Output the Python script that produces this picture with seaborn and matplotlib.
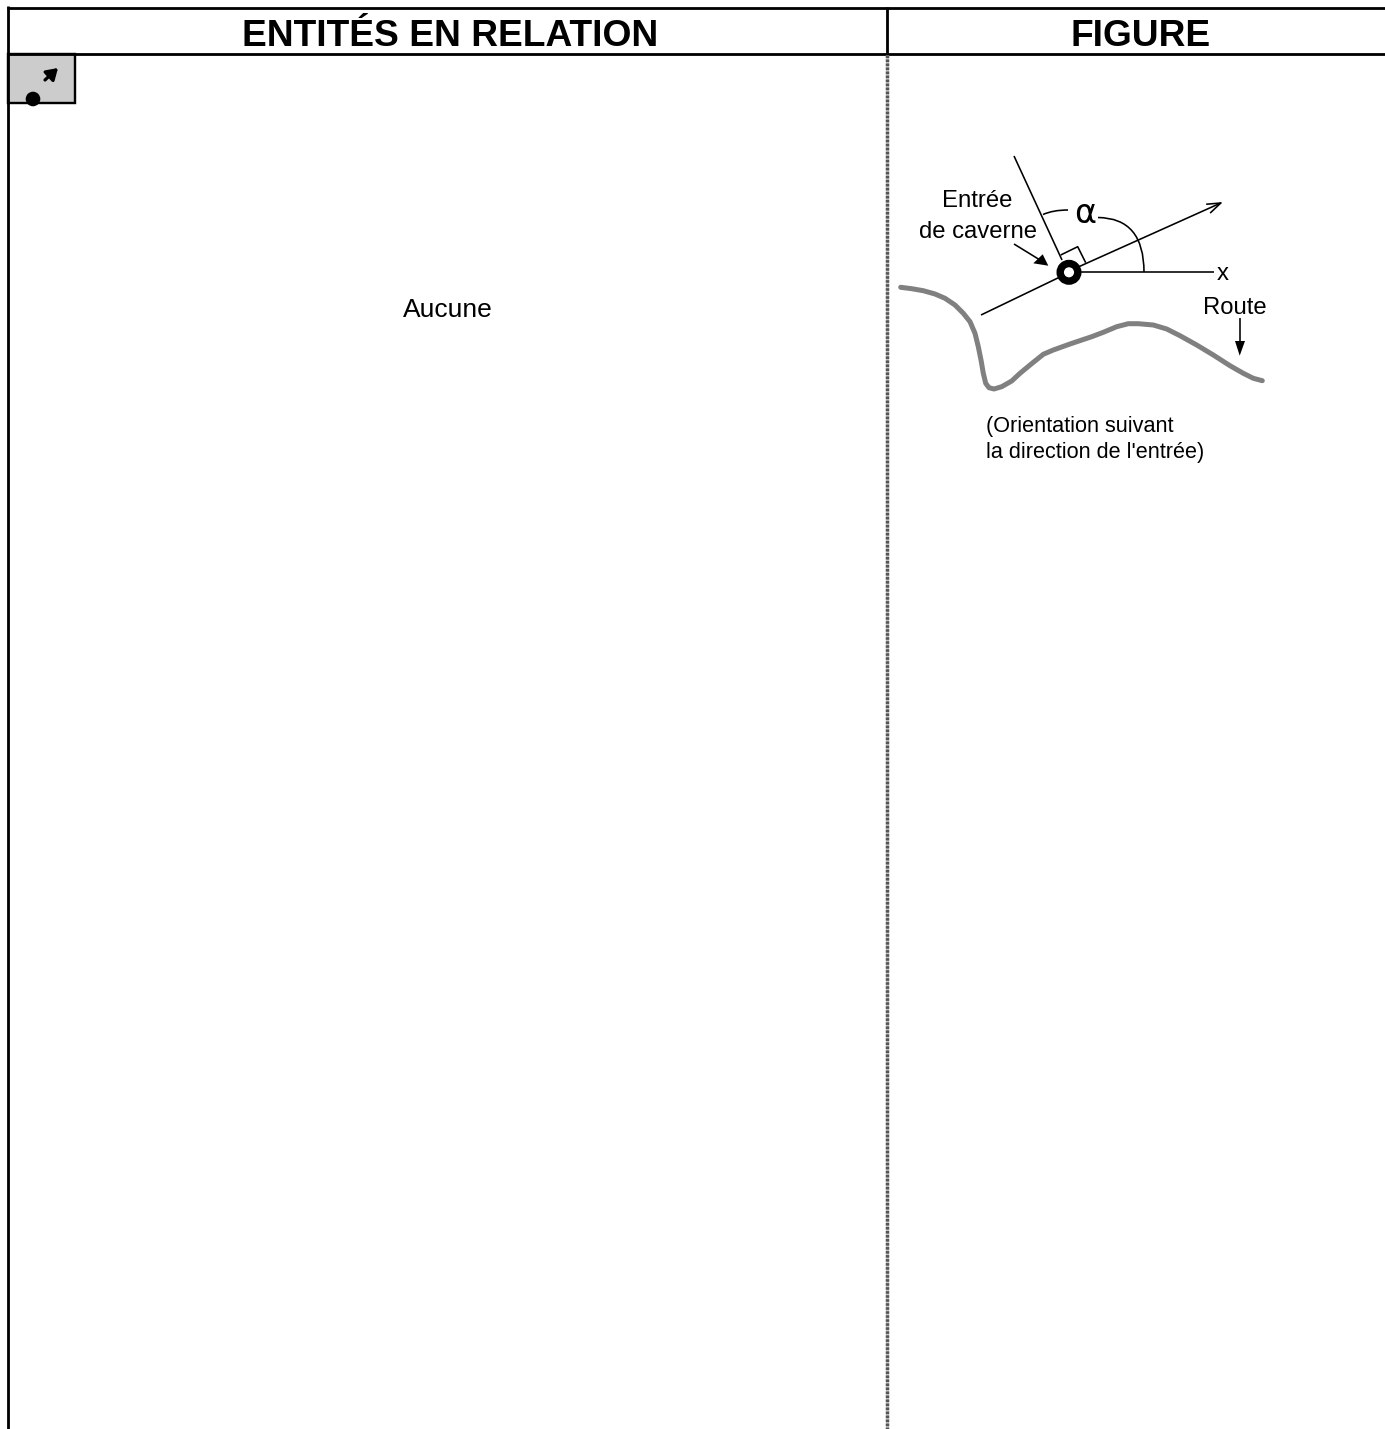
import matplotlib
matplotlib.use("Agg")
import matplotlib.pyplot as plt
from matplotlib.patches import Circle, PathPatch, Rectangle, Polygon
from matplotlib.path import Path
import pandas as pd
import seaborn as sns

# texte
headers = ["ENTITÉS EN RELATION", "FIGURE"]
cell_text = "Aucune"
note_lines = ["(Orientation suivant", "la direction de l'entrée)"]

# tracé de la route (pixels)
road_x = [900.7, 911.7, 923.3, 935, 945, 955, 963.3, 970, 975, 978.3, 981, 983.3, 985.7, 989,
          994, 1001.7, 1011.7, 1020, 1030, 1043.3, 1053.3, 1070, 1091.7, 1103.3, 1116.7, 1128.3,
          1138.3, 1153.3, 1166.7, 1180, 1196.7, 1213.3, 1230, 1243.3, 1253.3, 1262.3]
road_y = [287.3, 288.7, 290.7, 294, 298.3, 305, 313.3, 321.7, 333.3, 346.7, 360, 373.3, 383.3, 387.7,
          389, 386.7, 381, 373.3, 365, 354.3, 350, 344, 336.7, 332.3, 326.7, 323.7,
          323.7, 325, 329, 335.7, 345, 355, 365.7, 373.3, 378.3, 380.7]

sns.set_theme(style="white")
plt.rcParams["font.family"] = ["Liberation Sans", "DejaVu Sans"]

fig = plt.figure(figsize=(13.85, 14.29), dpi=100)
ax = fig.add_axes([0, 0, 1, 1])
ax.set_xlim(0, 1385)
ax.set_ylim(1429, 0)
ax.axis("off")

PX = 72 / 100  # largeur en points pour 1 pixel

# cadre du tableau
frame = dict(color="black", lw=2.8 * PX, solid_capstyle="butt")
ax.plot([6.5, 1385], [7.5, 7.5], **frame)
ax.plot([8, 1385], [53.5, 53.5], **frame)
ax.plot([8, 8], [6, 1429], **frame)
ax.plot([887, 887], [7, 53], **frame)
ax.plot([887, 887], [55, 1429], color="#c4c4c4", lw=3.4 * PX, solid_capstyle="butt")
ax.plot([887, 887], [55, 1429], color="#555555", lw=3.4 * PX, linestyle=(0, (0.75, 0.43)))

# en-tetes
ax.text(450, 36, headers[0], fontsize=26.7, fontweight="bold", ha="center", va="center", color="black")
ax.text(1141, 36, headers[1], fontsize=26.7, fontweight="bold", ha="center", va="center", color="black")

# icone grise
ax.add_patch(Rectangle((8, 54), 67, 49, facecolor="#cccccc", edgecolor="black", lw=2.4 * PX))
ax.add_patch(Circle((33, 99), 7.3, facecolor="black", edgecolor="none", zorder=3))
ax.annotate("", xy=(58, 68), xytext=(45, 80),
            arrowprops=dict(arrowstyle="-|>,head_length=0.55,head_width=0.35", color="black", lw=3.2 * PX,
                            shrinkA=0, shrinkB=0))

ax.text(447.5, 309.5, cell_text, fontsize=19, ha="center", va="center", color="black")

# route
road = pd.DataFrame({"x": road_x, "y": road_y})
sns.lineplot(data=road, x="x", y="y", sort=False, estimator=None, color="#808080", lw=5 * PX,
             ax=ax, legend=False, solid_capstyle="round", solid_joinstyle="round")
ax.set_xlim(0, 1385)
ax.set_ylim(1429, 0)
ax.axis("off")

# construction geometrique
thin = dict(color="black", lw=1.6 * PX, solid_capstyle="butt")
ax.plot([1014, 1062], [156, 260], **thin)
ax.plot([981, 1062], [315, 276], **thin)
ax.plot([1076, 1214], [272, 272], **thin)
ax.plot([1060.7, 1077.7, 1085.7], [255, 246.7, 262.7], **thin)
ax.annotate("", xy=(1223, 202), xytext=(1076, 268),
            arrowprops=dict(arrowstyle="->,head_length=0.8,head_width=0.28", color="black", lw=1.6 * PX,
                            shrinkA=0, shrinkB=0))

# entree de caverne
ax.add_patch(Circle((1069, 272.3), 8.8, facecolor="white", edgecolor="black", lw=7.4 * PX, zorder=4))

# arcs de l'angle alpha
ax.add_patch(PathPatch(Path([(1043, 214.5), (1053, 210), (1068, 210)], [Path.MOVETO, Path.CURVE3, Path.CURVE3]),
                       fill=False, edgecolor="black", lw=1.6 * PX))
ax.add_patch(PathPatch(Path([(1098, 217.5), (1144, 218), (1144, 272)], [Path.MOVETO, Path.CURVE3, Path.CURVE3]),
                       fill=False, edgecolor="black", lw=1.6 * PX))
ax.text(1085, 213.5, "α", fontsize=24, ha="center", va="center", color="black", family=["DejaVu Sans"])

# fleches pleines
ax.plot([1014, 1040], [244, 260], **thin)
ax.add_patch(Polygon([(1048.3, 265.7), (1033.3, 263.3), (1042.7, 254.3)], facecolor="black", edgecolor="none"))
ax.plot([1239.7, 1239.7], [318, 345], **thin)
ax.add_patch(Polygon([(1239.7, 355.7), (1235, 341), (1245, 341)], facecolor="black", edgecolor="none"))

# libelles
ax.text(977.5, 201, "Entrée", fontsize=17.2, ha="center", va="center", color="black")
ax.text(978, 231.5, "de caverne", fontsize=17.2, ha="center", va="center", color="black")
ax.text(1222.7, 273.5, "x", fontsize=17.2, ha="center", va="center", color="black")
ax.text(1235, 307.5, "Route", fontsize=17.2, ha="center", va="center", color="black")
ax.text(986, 426.5, note_lines[0], fontsize=15.55, ha="left", va="center", color="black")
ax.text(986, 452.5, note_lines[1], fontsize=15.55, ha="left", va="center", color="black")

fig.savefig("out.png", dpi=100, facecolor="white")
